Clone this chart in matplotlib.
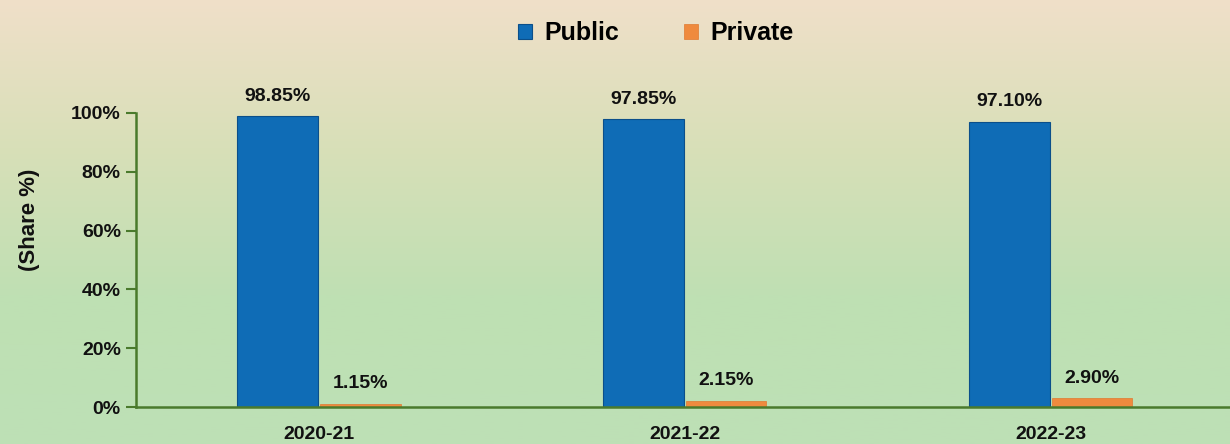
import numpy as np
import matplotlib.pyplot as plt
from matplotlib.colors import LinearSegmentedColormap

plt.rcParams['font.family'] = ['Liberation Sans Narrow', 'Liberation Sans', 'DejaVu Sans']
plt.rcParams['font.weight'] = 'bold'

years = ['2020-21', '2021-22', '2022-23']
public = [98.85, 97.85, 97.10]
private = [1.15, 2.15, 2.90]
public_labels = ['98.85%', '97.85%', '97.10%']
private_labels = ['1.15%', '2.15%', '2.90%']

fig = plt.figure(figsize=(12.3, 4.44), dpi=100)

# background gradient: beige at top, light green at bottom
bg = fig.add_axes([0, 0, 1, 1], zorder=-10)
cmap = LinearSegmentedColormap.from_list('bg', ['#f0e0c9', '#d8dfb8', '#bfe0b3', '#bde0b6'])
bg.imshow(np.linspace(0, 1, 256).reshape(-1, 1), cmap=cmap, aspect='auto', extent=[0, 1, 0, 1])
bg.axis('off')

ax = fig.add_axes([0.1106, 0.0833, 0.8894, 0.6622])
ax.patch.set_alpha(0)

x = np.arange(len(years))
w = 0.22
off = 0.113
green = '#4a7a2c'

b1 = ax.bar(x - off, public, w, color='#0f6cb6', edgecolor='#0b4f8a', linewidth=0.8, label='Public')
b2 = ax.bar(x + off, private, w, color='#ef8a3e', edgecolor='#e07a30', linewidth=0.5, label='Private')

for rect, lab in zip(b1, public_labels):
    ax.text(rect.get_x() + rect.get_width() / 2, rect.get_height() + 4, lab,
            ha='center', va='bottom', fontsize=14, fontweight='bold', color='#111111')
for rect, lab in zip(b2, private_labels):
    ax.text(rect.get_x() + rect.get_width() / 2, rect.get_height() + 4, lab,
            ha='center', va='bottom', fontsize=14, fontweight='bold', color='#111111')

ax.set_xlim(-0.5, 2.49)
ax.set_ylim(0, 100)
ax.set_yticks([0, 20, 40, 60, 80, 100])
ax.set_yticklabels(['0%', '20%', '40%', '60%', '80%', '100%'])
ax.set_xticks(x)
ax.set_xticklabels(years)
ax.tick_params(axis='y', length=7, width=1.5, color=green, labelsize=14, pad=4)
ax.tick_params(axis='x', length=0, labelsize=14, pad=14)
for t in ax.get_xticklabels() + ax.get_yticklabels():
    t.set_fontweight('bold')
    t.set_color('#111111')

for s in ['top', 'right']:
    ax.spines[s].set_visible(False)
ax.spines['left'].set_color(green)
ax.spines['bottom'].set_color(green)
ax.spines['left'].set_linewidth(1.8)
ax.spines['bottom'].set_linewidth(1.8)

fig.text(0.024, 0.505, '(Share %)', rotation=90, ha='center', va='center',
         fontsize=16, fontweight='bold', color='#111111')

fig.legend(handles=[b1, b2], loc='center', bbox_to_anchor=(0.533, 0.925), ncol=2,
           frameon=False, handlelength=0.55, handleheight=0.55,
           handletextpad=0.5, columnspacing=2.6, prop={'weight': 'bold', 'size': 18})

fig.savefig('out.png', dpi=100)
